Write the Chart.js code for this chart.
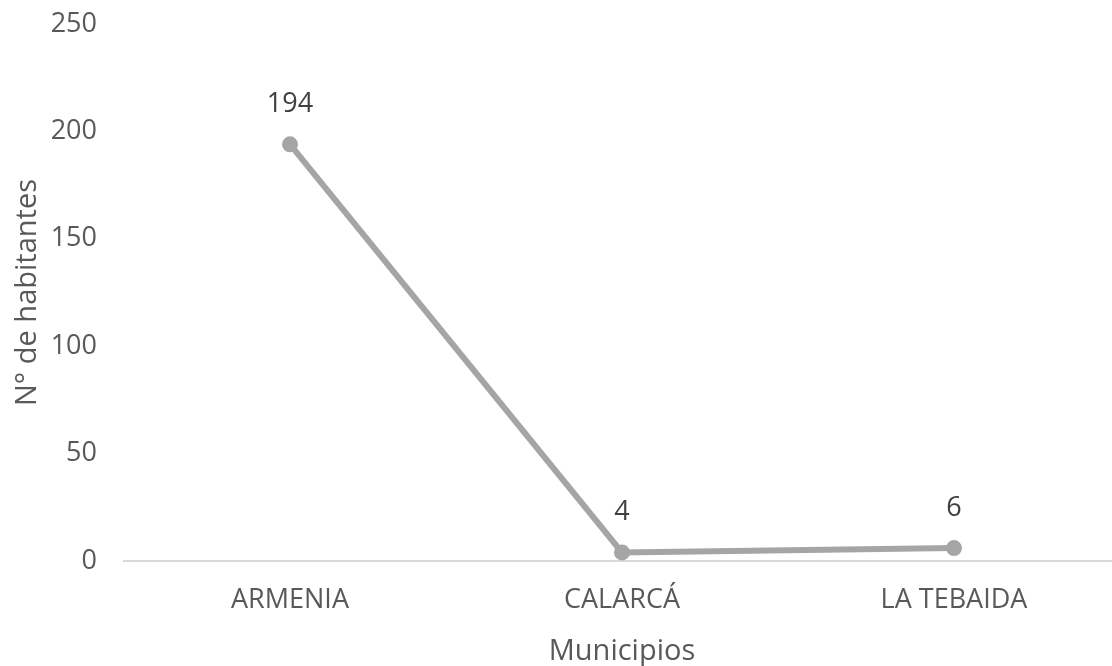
<!DOCTYPE html>
<html lang="es">
<head>
<meta charset="utf-8">
<title>N° de habitantes por municipio</title>
<script src="https://cdn.jsdelivr.net/npm/chart.js@4/dist/chart.umd.min.js"></script>
<style>
  html, body { margin: 0; padding: 0; background: #ffffff; overflow: hidden; }
  canvas { display: block; background: #ffffff; }
</style>
</head>
<body>
<!-- the plot area runs slightly past the right edge of the page -->
<canvas id="chart" width="1120" height="666"></canvas>
<script>
// Municipios y número de habitantes
const municipios = ['ARMENIA', 'CALARCÁ', 'LA TEBAIDA'];
const habitantes = [194, 4, 6];
const yTicks = [0, 50, 100, 150, 200, 250];

const FONT = '"Open Sans", "Noto Sans", sans-serif';

// Etiquetas de valor encima de cada punto
const valueLabels = {
  id: 'valueLabels',
  afterDatasetsDraw(chart) {
    const ctx = chart.ctx;
    const meta = chart.getDatasetMeta(0);
    const values = chart.data.datasets[0].data;
    ctx.save();
    ctx.font = '27px ' + FONT;
    ctx.fillStyle = '#404040';
    ctx.textAlign = 'center';
    ctx.textBaseline = 'middle';
    meta.data.forEach((pt, i) => {
      ctx.fillText(String(values[i]), pt.x, pt.y - 40);
    });
    ctx.restore();
  }
};

new Chart(document.getElementById('chart'), {
  type: 'line',
  data: {
    labels: municipios,
    datasets: [{
      label: 'N° de habitantes',
      data: habitantes,
      borderColor: '#a5a5a5',
      backgroundColor: '#a5a5a5',
      borderWidth: 6,
      pointRadius: 8,
      pointHoverRadius: 8,
      pointBackgroundColor: '#a5a5a5',
      pointBorderWidth: 0,
      tension: 0,
      fill: false
    }]
  },
  options: {
    responsive: false,
    animation: false,
    devicePixelRatio: 1,
    layout: { autoPadding: false, padding: { top: 24, right: 0, bottom: 0, left: 0 } },
    plugins: {
      legend: { display: false },
      tooltip: { enabled: false }
    },
    scales: {
      x: {
        type: 'category',
        offset: true,
        grid: { display: false, drawTicks: false },
        border: { display: true, color: '#d9d9d9', width: 2 },
        ticks: {
          color: '#595959',
          font: { family: FONT, size: 27 },
          padding: 23,
          maxRotation: 0,
          autoSkip: false
        },
        title: {
          display: true,
          text: 'Municipios',
          color: '#595959',
          font: { family: FONT, size: 29, lineHeight: 1 },
          padding: { top: 0, bottom: 0 }
        },
        afterFit(scale) {
          scale.height = 105;
          scale.paddingLeft = 0;
          scale.paddingRight = 0;
        }
      },
      y: {
        min: 0,
        max: 250,
        grid: { display: false, drawTicks: false },
        border: { display: false },
        afterBuildTicks(scale) { scale.ticks = yTicks.map(v => ({ value: v })); },
        ticks: {
          color: '#595959',
          font: { family: FONT, size: 27 },
          padding: 27
        },
        title: {
          display: true,
          text: 'N° de habitantes',
          color: '#595959',
          font: { family: FONT, size: 29, lineHeight: 1 },
          padding: { top: 13, bottom: 0 }
        },
        afterFit(scale) {
          scale.width = 124;
          scale.paddingTop = 0;
          scale.paddingBottom = 0;
        }
      }
    }
  },
  plugins: [valueLabels]
});
</script>
</body>
</html>
